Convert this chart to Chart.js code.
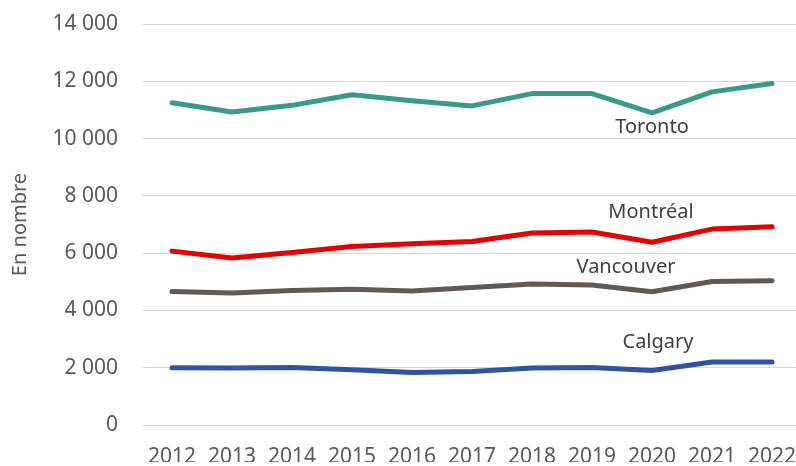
<!DOCTYPE html>
<html>
<head>
<meta charset="utf-8">
<script src="https://cdn.jsdelivr.net/npm/chart.js@4.4.1/dist/chart.umd.min.js"></script>
<style>
  html, body { margin: 0; padding: 0; background: #fff; overflow: hidden; }
  #wrap { width: 808px; height: 466px; }
</style>
</head>
<body>
<div id="wrap"><canvas id="villesChart"></canvas></div>
<script>
const years = ["2012", "2013", "2014", "2015", "2016", "2017", "2018", "2019", "2020", "2021", "2022"];
const toronto = [11250, 10930, 11160, 11530, 11320, 11140, 11570, 11570, 10900, 11630, 11920];
const montreal = [6070, 5830, 6020, 6230, 6330, 6410, 6700, 6740, 6380, 6840, 6920];
const vancouver = [4660, 4610, 4700, 4740, 4680, 4800, 4920, 4890, 4650, 5010, 5040];
const calgary = [2000, 1990, 2010, 1930, 1830, 1870, 1990, 2010, 1900, 2200, 2200];
const yTicks = [0, 2000, 4000, 6000, 8000, 10000, 12000, 14000];

// city name drawn near the 2020 point, value = vertical anchor
const cityLabels = ["Toronto", "Montréal", "Vancouver", "Calgary"];
const labelValues = [10390, 7420, 5515, 2880];
const labelShift = [0, -1, -26, 6];

const fontFamily = "'Noto Sans', sans-serif";

const formatNumber = (v) => String(v).replace(/\B(?=(\d{3})+(?!\d))/g, " ");

const cityNames = {
  id: "cityNames",
  afterDatasetsDraw(chart) {
    const ctx = chart.ctx;
    const x = chart.scales.x;
    const y = chart.scales.y;
    ctx.save();
    ctx.font = "20px " + fontFamily;
    ctx.fillStyle = "#404040";
    ctx.textAlign = "center";
    ctx.textBaseline = "middle";
    cityLabels.forEach((name, i) => {
      ctx.fillText(name, x.getPixelForValue(8) + labelShift[i], y.getPixelForValue(labelValues[i]));
    });
    ctx.restore();
  },
};

const makeLine = (label, data, color) => ({
  label: label,
  data: data,
  borderColor: color,
  backgroundColor: color,
  borderWidth: 5,
  pointRadius: 0,
  tension: 0,
  fill: false,
  borderCapStyle: "round",
  borderJoinStyle: "round",
});

new Chart(document.getElementById("villesChart"), {
  type: "line",
  data: {
    labels: years,
    datasets: [
      makeLine("Toronto", toronto, "#3a9a89"),
      makeLine("Montréal", montreal, "#e60000"),
      makeLine("Vancouver", vancouver, "#5f5a55"),
      makeLine("Calgary", calgary, "#2f55a0"),
    ],
  },
  options: {
    responsive: true,
    maintainAspectRatio: false,
    animation: false,
    layout: { padding: { top: 0, right: 6, bottom: 4, left: 0 } },
    plugins: {
      legend: { display: false },
      tooltip: { enabled: false },
    },
    scales: {
      x: {
        offset: true,
        grid: { display: false },
        border: { display: false },
        afterFit: (axis) => {
          axis.height = 37;
        },
        ticks: {
          color: "#595959",
          font: { family: fontFamily, size: 21 },
          maxRotation: 0,
          autoSkip: false,
          padding: 11,
        },
      },
      y: {
        min: 0,
        max: 14000,
        afterBuildTicks: (axis) => {
          axis.ticks = yTicks.map((v) => ({ value: v }));
        },
        afterFit: (axis) => {
          axis.width = 142;
          axis.paddingTop = 24;
          axis.paddingBottom = 0;
        },
        grid: { color: "#d9d9d9", lineWidth: 1, drawTicks: false },
        border: { display: false },
        ticks: {
          color: "#595959",
          font: { family: fontFamily, size: 21 },
          padding: 24,
          callback: (v) => formatNumber(v),
        },
        title: {
          display: true,
          text: "En nombre",
          color: "#595959",
          font: { family: fontFamily, size: 20 },
          padding: { top: 8, bottom: 0 },
        },
      },
    },
  },
  plugins: [cityNames],
});
</script>
</body>
</html>
